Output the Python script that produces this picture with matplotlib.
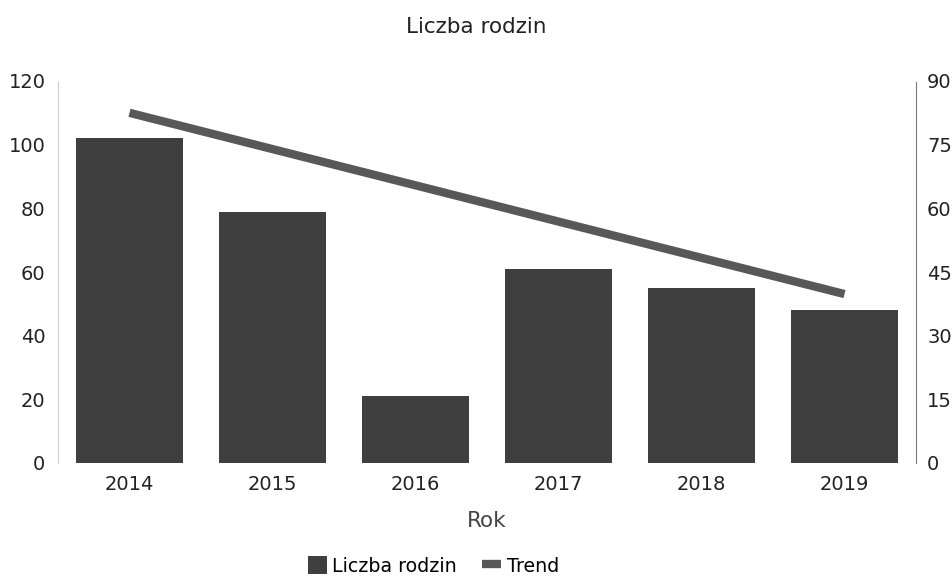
import matplotlib
matplotlib.use("Agg")
import matplotlib.pyplot as plt
from matplotlib.patches import Patch
from matplotlib.lines import Line2D

years = ["2014", "2015", "2016", "2017", "2018", "2019"]
families = [102, 79, 21, 61, 55, 48]
trend_years = ["2014", "2019"]
trend_values = [82.5, 39.8]
left_ticks = [0, 20, 40, 60, 80, 100, 120]
right_ticks = [0, 15, 30, 45, 60, 75, 90]

plt.rcParams['font.family'] = ['DejaVu Sans']
fig = plt.figure(figsize=(9.52, 5.81), dpi=100)
ax = fig.add_axes([58/952, 1-463/581, (916-58)/952, (463-81)/581])
x = list(range(len(years)))
ax.bar(x, families, width=0.755, color="#3f3f3f", zorder=2)
ax.set_xlim(-0.5, len(years)-0.5)
ax.set_ylim(0, 120)
ax.set_yticks(left_ticks)
ax.set_xticks(x)
ax.set_xticklabels(years)
ax.tick_params(length=0, labelsize=14, colors="#222222", pad=9)
for s in ["top", "right", "bottom"]:
    ax.spines[s].set_visible(False)
ax.spines["left"].set_color("#cccccc")
ax.spines["left"].set_linestyle((0, (1, 1)))
ax.spines["left"].set_linewidth(0.8)
ax.set_xlabel("Rok", fontsize=15.5, color="#444444", labelpad=12)

ax2 = ax.twinx()
ax2.set_ylim(0, 90)
ax2.set_yticks(right_ticks)
tx = [years.index(y) for y in trend_years]
ax2.plot(tx, trend_values, color="#585858", linewidth=6, solid_capstyle="butt", zorder=3)
ax2.tick_params(length=0, labelsize=14, colors="#222222", pad=8)
for s in ["top", "left", "bottom"]:
    ax2.spines[s].set_visible(False)
ax2.spines["right"].set_color("#777777")
ax2.spines["right"].set_linestyle((0, (1, 1)))
ax2.spines["right"].set_linewidth(0.8)

fig.text(0.5, 1-27/581, "Liczba rodzin", ha="center", va="center", fontsize=15.5, color="#222222")

handles = [Patch(facecolor="#3f3f3f", edgecolor="none"),
           Line2D([0], [0], color="#585858", linewidth=6, solid_capstyle="butt")]
leg = fig.legend(handles, ["Liczba rodzin", "Trend"], loc="center", bbox_to_anchor=(0.455, 1-566/581),
                 ncol=2, frameon=False, fontsize=13.7, handlelength=1.0, handleheight=1.1,
                 handletextpad=0.3, columnspacing=1.3)
fig.savefig("out.png", dpi=100)
